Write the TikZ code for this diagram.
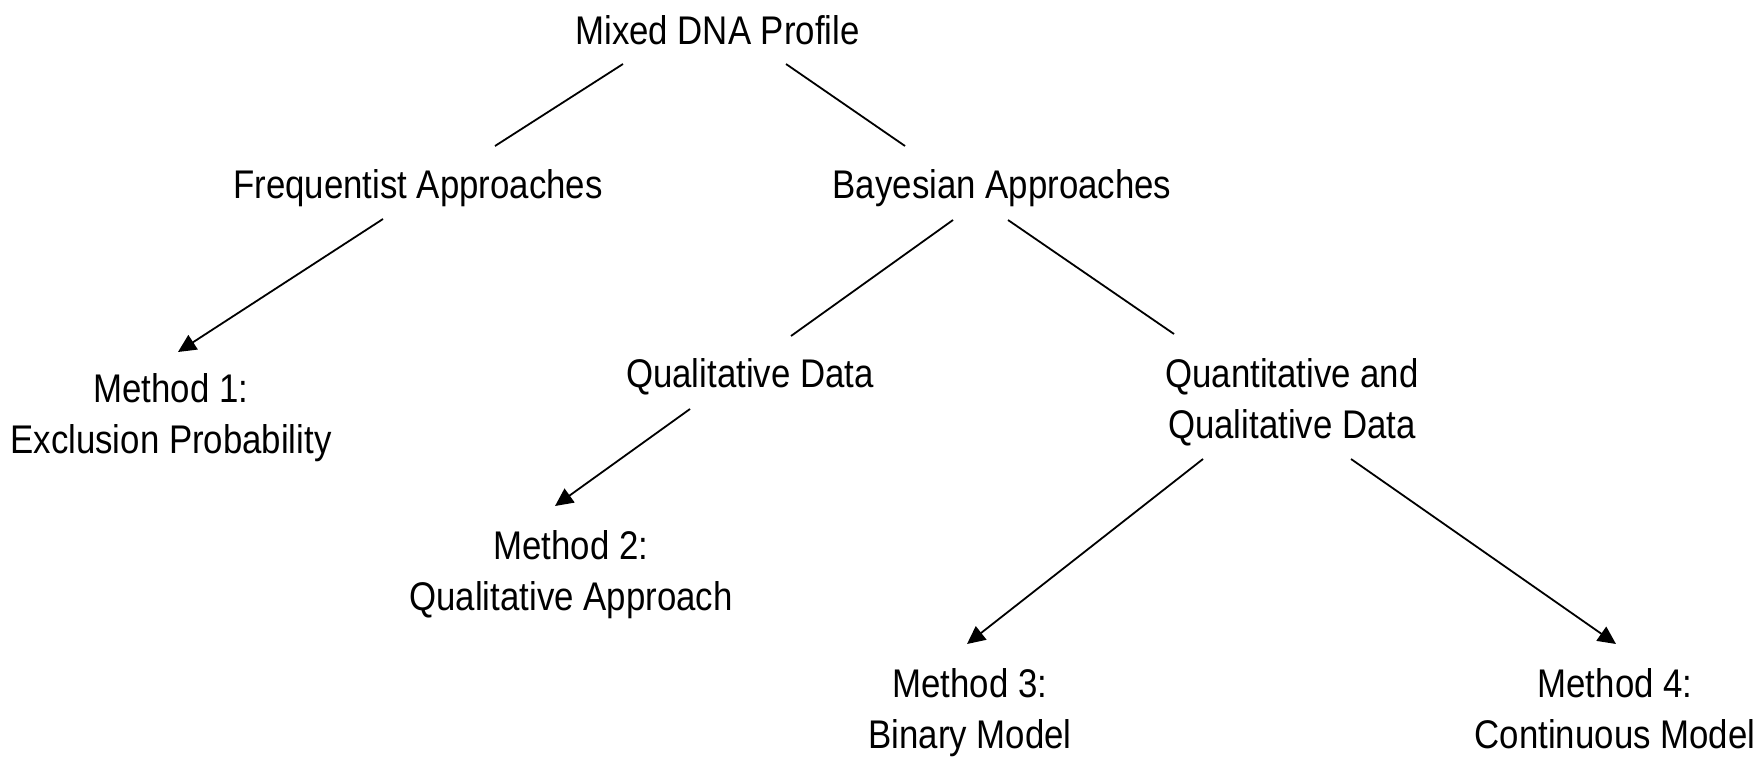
\documentclass[tikz,border=0pt]{standalone}
\usepackage{fontspec}
\setmainfont[FakeStretch=0.87]{Liberation Sans}
\usetikzlibrary{arrows.meta}
\tikzset{
  lbl/.style={anchor=base, inner sep=0pt, align=center, font=\fontsize{40pt}{51pt}\selectfont},
  link/.style={line width=1.8pt},
  arr/.style={link, -{Triangle[length=18pt,width=17pt]}}
}
\begin{document}
\begin{tikzpicture}[x=1pt,y=-1pt]
\useasboundingbox (0,0) rectangle (1760,757);
\node[lbl] (mixed) at (717.5,45) {Mixed DNA Profile};
\node[lbl] (freq) at (418,198) {Frequentist Approaches};
\node[lbl] (bayes) at (1002,198) {Bayesian Approaches};
\node[lbl] (m1) at (171,453) {Method 1:\\Exclusion Probability};
\node[lbl] (qd) at (750,387) {Qualitative Data};
\node[lbl] (qq) at (1292,438) {Quantitative and\\Qualitative Data};
\node[lbl] (m2) at (571,610) {Method 2:\\Qualitative Approach};
\node[lbl] (m3) at (970,748) {Method 3:\\Binary Model};
\node[lbl] (m4) at (1615,748) {Method 4:\\Continuous Model};

\draw[link] ([shift={(-94.5,19)}]mixed.base) -- ([shift={(77,-52)}]freq.base);
\draw[link] ([shift={(68.5,19)}]mixed.base) -- ([shift={(-97,-52)}]bayes.base);
\draw[arr] ([shift={(-35,21)}]freq.base) -- ([shift={(7,-101)}]m1.base);
\draw[link] ([shift={(-49,22)}]bayes.base) -- ([shift={(41,-51)}]qd.base);
\draw[link] ([shift={(6,22)}]bayes.base) -- ([shift={(-118,-104)}]qq.base);
\draw[arr] ([shift={(-60,22)}]qd.base) -- ([shift={(-16,-104)}]m2.base);
\draw[arr] ([shift={(-89,21)}]qq.base) -- ([shift={(-3,-104)}]m3.base);
\draw[arr] ([shift={(59,21)}]qq.base) -- ([shift={(1,-104)}]m4.base);
\end{tikzpicture}
\end{document}
